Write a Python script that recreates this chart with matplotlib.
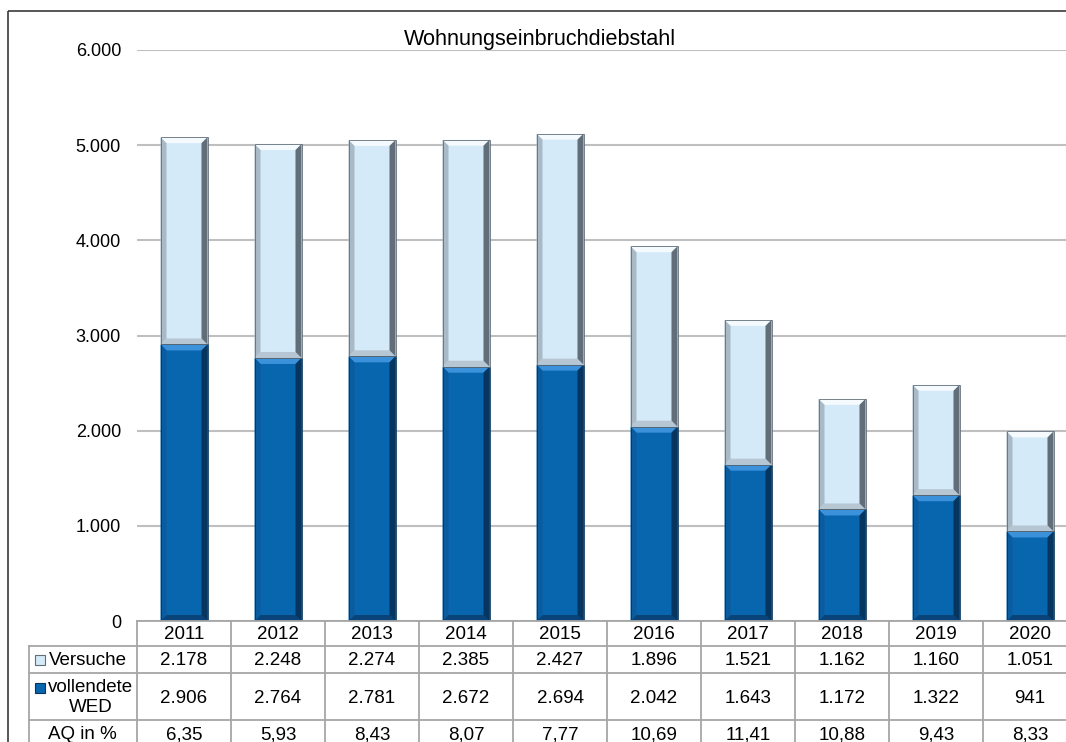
import matplotlib
matplotlib.use("Agg")
import matplotlib.pyplot as plt
from matplotlib.patches import Polygon, Rectangle

# Werte pro Jahr
jahre = ["2011", "2012", "2013", "2014", "2015", "2016", "2017", "2018", "2019", "2020"]
versuche = [2178, 2248, 2274, 2385, 2427, 1896, 1521, 1162, 1160, 1051]
vollendete = [2906, 2764, 2781, 2672, 2694, 2042, 1643, 1172, 1322, 941]
aq_prozent = [6.35, 5.93, 8.43, 8.07, 7.77, 10.69, 11.41, 10.88, 9.43, 8.33]

titel = "Wohnungseinbruchdiebstahl"
y_ticks = [0, 1000, 2000, 3000, 4000, 5000, 6000]

# Farben: Flaeche, oben, links, rechts, unten
farben_voll = ("#0866ae", "#3b91da", "#0a5c9f", "#06355f", "#0a4377")
farben_vers = ("#d5eaf8", "#f4fafe", "#a9b9c6", "#616d78", "#b6c6d2")

plt.rcParams['font.family'] = ['Liberation Sans', 'DejaVu Sans']

B, H = 1066, 742
fig = plt.figure(figsize=(B / 100, H / 100), dpi=100)


def fx(px):
    return px / B


def fy(py):
    return 1 - py / H


# Diagrammflaeche in Pixeln: links 137, unten 621, oben 50, Spaltenbreite 94
spalte = 94
links, unten, oben = 137, 621, 50
ax = fig.add_axes([fx(links), fy(unten), 10 * spalte / B, (unten - oben) / H])
ax.set_xlim(-0.5, 9.5)
ax.set_ylim(0, 6000)

px_y = (unten - oben) / 6000.0


def tausender(v):
    return f"{v:,}".replace(",", ".")


def bevel_bar(ax, x, basis, hoehe, farben, breite=0.5, b=6):
    face, c_top, c_left, c_right, c_bottom = farben
    dx = b / spalte
    dy = b / px_y
    x0, x1 = x - breite / 2, x + breite / 2
    y0, y1 = basis, basis + hoehe
    ax.add_patch(Polygon([(x0, y1), (x1, y1), (x1 - dx, y1 - dy), (x0 + dx, y1 - dy)],
                         closed=True, fc=c_top, ec="none", zorder=3))
    ax.add_patch(Polygon([(x0, y0), (x1, y0), (x1 - dx, y0 + dy), (x0 + dx, y0 + dy)],
                         closed=True, fc=c_bottom, ec="none", zorder=3))
    ax.add_patch(Polygon([(x0, y0), (x0 + dx, y0 + dy), (x0 + dx, y1 - dy), (x0, y1)],
                         closed=True, fc=c_left, ec="none", zorder=3))
    ax.add_patch(Polygon([(x1, y0), (x1 - dx, y0 + dy), (x1 - dx, y1 - dy), (x1, y1)],
                         closed=True, fc=c_right, ec="none", zorder=3))
    ax.add_patch(Rectangle((x0, y0), breite, hoehe, fc="none", ec=c_right, lw=0.6, zorder=4))


pos = list(range(len(jahre)))
ax.bar(pos, vollendete, width=0.5, color=farben_voll[0], zorder=2)
ax.bar(pos, versuche, bottom=vollendete, width=0.5, color=farben_vers[0], zorder=2)
for i in pos:
    bevel_bar(ax, i, 0, vollendete[i], farben_voll)
    bevel_bar(ax, i, vollendete[i], versuche[i], farben_vers)

ax.set_yticks(y_ticks)
ax.set_yticklabels([tausender(v) for v in y_ticks])
ax.set_xticks([])
ax.tick_params(axis='y', length=0, pad=11.5, labelsize=13)
ax.yaxis.grid(True, color="#bfbfbf", lw=1.5)
ax.set_axisbelow(True)
for s in ax.spines.values():
    s.set_visible(False)

# Ueberlagerung in Pixelkoordinaten fuer Rahmen, Titel und Datentabelle
ov = fig.add_axes([0, 0, 1, 1], zorder=5)
ov.set_xlim(0, B)
ov.set_ylim(H, 0)
ov.axis("off")
ov.patch.set_alpha(0)

# Rahmen, rechts und unten ausserhalb des Bildes
ov.add_patch(Rectangle((8, 11), B + 40, H + 40, fc="none", ec="#3a3a3a", lw=1.2,
                       clip_on=False))

ov.text(540, 45, titel, ha="center", va="baseline", fontsize=15.6)

# Tabellenlinien
linie = dict(color="#a6a6a6", lw=1.3)
rechts = links + 10 * spalte
ov.plot([links, rechts], [621, 621], **linie)
for yy in (646, 673, 720):
    ov.plot([29, rechts], [yy, yy], **linie)
ov.plot([29, 29], [646, H], **linie)
for i in range(10):
    xx = links + i * spalte
    ov.plot([xx, xx], [621, H], **linie)

fs = 13.5
for i, j in enumerate(jahre):
    xc = links + spalte * (i + 0.5)
    ov.text(xc, 639, j, ha="center", va="baseline", fontsize=fs)
    ov.text(xc, 665, tausender(versuche[i]), ha="center", va="baseline", fontsize=fs)
    ov.text(xc, 703, tausender(vollendete[i]), ha="center", va="baseline", fontsize=fs)
    ov.text(xc, 739, f"{aq_prozent[i]:.2f}".replace(".", ","), ha="center",
            va="baseline", fontsize=fs)

# Zeilenbeschriftungen mit Legendensymbolen
ov.add_patch(Rectangle((35, 655), 10, 10, fc=farben_vers[0], ec=farben_vers[3], lw=0.8))
ov.add_patch(Rectangle((35, 683), 10, 10, fc=farben_voll[0], ec=farben_voll[3], lw=0.8))
ov.text(49, 665, "Versuche", ha="left", va="baseline", fontsize=fs)
ov.text(90.5, 692.5, "vollendete", ha="center", va="baseline", fontsize=fs)
ov.text(90.5, 712, "WED", ha="center", va="baseline", fontsize=fs)
ov.text(82, 739, "AQ in %", ha="center", va="baseline", fontsize=fs)

fig.savefig("out.png", dpi=100)
